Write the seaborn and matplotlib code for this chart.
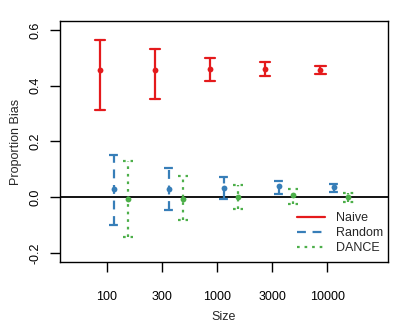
import matplotlib
matplotlib.use("Agg")
import matplotlib.pyplot as plt
from matplotlib.lines import Line2D
import numpy as np
import pandas as pd
import seaborn as sns

# values
sizes = ["100", "300", "1000", "3000", "10000"]
series = ["Naive", "Random", "DANCE"]

naive_mid = [0.457, 0.455, 0.459, 0.459, 0.456]
naive_lo = [0.314, 0.352, 0.418, 0.435, 0.442]
naive_hi = [0.564, 0.530, 0.499, 0.486, 0.472]

random_mid = [0.029, 0.031, 0.034, 0.039, 0.036]
random_lo = [-0.100, -0.047, -0.005, 0.011, 0.020]
random_hi = [0.153, 0.105, 0.072, 0.060, 0.049]

dance_mid = [-0.007, -0.007, 0.002, 0.008, 0.002]
dance_lo = [-0.141, -0.082, -0.043, -0.025, -0.016]
dance_hi = [0.131, 0.077, 0.043, 0.029, 0.017]

colors = {"Naive": "#E41A1C", "Random": "#377EB8", "DANCE": "#4DAF4A"}
styles = {"Naive": "-", "Random": (0, (4, 3)), "DANCE": (0, (1.2, 2.2))}
offsets = {"Naive": -0.127, "Random": 0.127, "DANCE": 0.38}

values = {
    "Naive": (naive_lo, naive_mid, naive_hi),
    "Random": (random_lo, random_mid, random_hi),
    "DANCE": (dance_lo, dance_mid, dance_hi),
}

# long table: three rows per point (lo, mid, hi); median -> point, full range -> bar
rows = []
for name in series:
    lo, mid, hi = values[name]
    for i, size in enumerate(sizes):
        for v in (lo[i], mid[i], hi[i]):
            rows.append({"series": name, "size": size, "idx": i, "bias": v})
df = pd.DataFrame(rows)

sns.set_theme(style="ticks")
plt.rcParams["font.family"] = ["Liberation Sans", "DejaVu Sans"]

fig = plt.figure(figsize=(4.09, 3.27), dpi=100)
ax = fig.add_axes([0.1467, 0.1988, 0.802, 0.737])

ax.axhline(0, color="black", lw=1.3, zorder=1)

for name in series:
    sub = df[df["series"] == name].copy()
    sub["pos"] = sub["idx"] + offsets[name]
    sns.pointplot(
        data=sub, x="pos", y="bias",
        estimator="median", errorbar=("pi", 100),
        native_scale=True, linestyle="none",
        color=colors[name], markers="o", markersize=4.2, markeredgewidth=0,
        capsize=0.19,
        err_kws={"linewidth": 1.6, "linestyle": styles[name]},
        ax=ax,
    )

ax.set_xlim(-0.85, 5.1)
ax.set_ylim(-0.232, 0.632)
ax.set_xticks(range(len(sizes)))
ax.set_xticklabels(sizes)
ax.set_yticks([-0.2, 0.0, 0.2, 0.4, 0.6])
ax.set_yticklabels(["-0.2", "0.0", "0.2", "0.4", "0.6"], rotation=90, va="center")

for s in ax.spines.values():
    s.set_visible(True)
    s.set_color("black")
    s.set_linewidth(1.0)

ax.tick_params(axis="x", length=7, width=1, pad=14, labelsize=9, colors="black")
ax.tick_params(axis="y", length=7, width=1, pad=6, labelsize=9, colors="black")
ax.set_xlabel("Size", fontsize=9, labelpad=6)
ax.set_ylabel("Proportion Bias", fontsize=9, labelpad=6)

handles = [
    Line2D([], [], color=colors[n], lw=1.6, linestyle=styles[n]) for n in series
]
ax.legend(handles, series, loc="lower right", frameon=False, fontsize=9,
          handlelength=2.2, handletextpad=0.9, labelspacing=0.25,
          bbox_to_anchor=(1.02, -0.015))

fig.savefig("out.png", dpi=100)
